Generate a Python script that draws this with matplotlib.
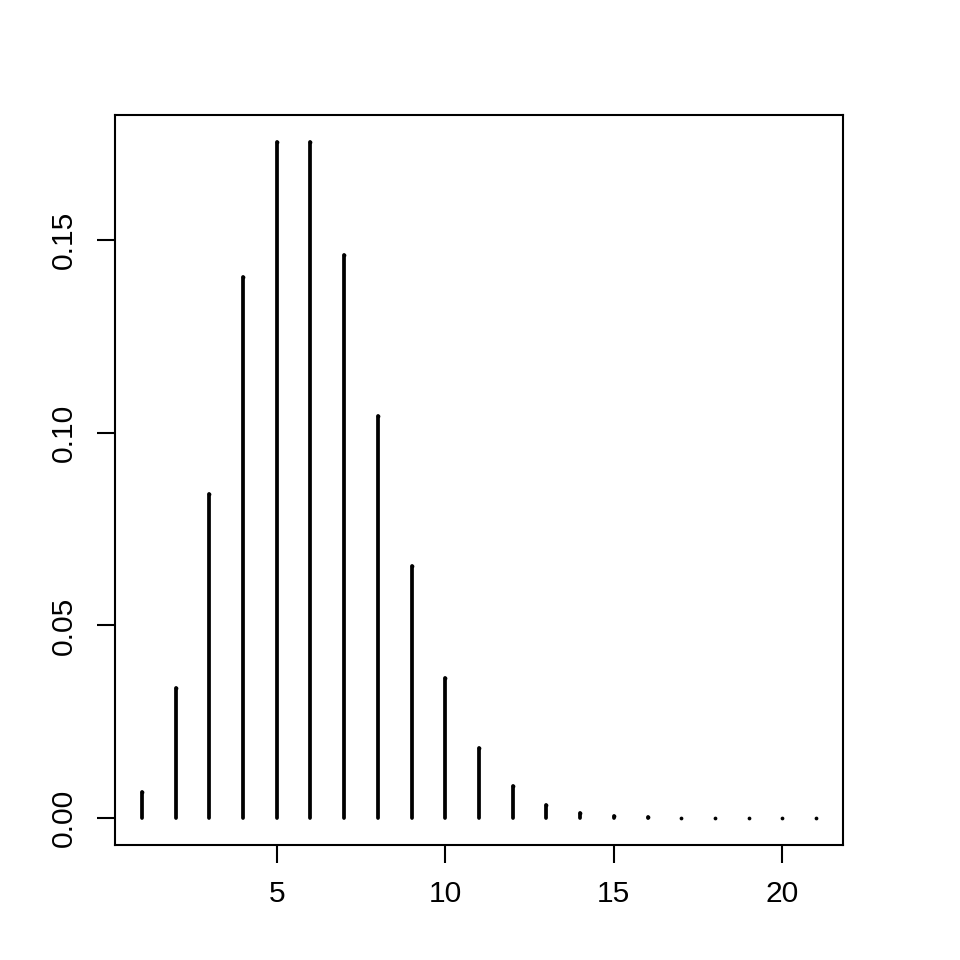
import matplotlib
matplotlib.use("Agg")
import matplotlib.pyplot as plt

plt.rcParams['font.family'] = ['Liberation Sans', 'DejaVu Sans']

# значения (индекс 1..21)
index = list(range(1, 22))
density = [0.0067, 0.0337, 0.0842, 0.1404, 0.1755, 0.1755, 0.1462, 0.1044,
           0.0653, 0.0363, 0.0181, 0.0082, 0.0034, 0.0013, 0.0005, 0.0002,
           0.00007, 0.00002, 0.00001, 0.00001, 0.00001]
x_ticks = [5, 10, 15, 20]
y_ticks = [0.00, 0.05, 0.10, 0.15]
y_tick_labels = ["0.00", "0.05", "0.10", "0.15"]

fig = plt.figure(figsize=(9.6, 9.6), dpi=100)
ax = fig.add_axes([115 / 960, 1 - 845 / 960, (843 - 115) / 960, (845 - 115) / 960])

lines = ax.vlines(index, 0, density, colors='black', linewidth=2.7)
lines.set_capstyle('round')
# круглые концы: у почти нулевых значений остаётся только точка
ax.plot(index, density, 'o', color='black', markersize=2.7, markeredgewidth=0)

ax.set_xlim(0.2, 21.8)
ymax = max(density)
ax.set_ylim(-0.04 * ymax, 1.04 * ymax)

ax.set_xticks(x_ticks)
ax.set_xticklabels([str(t) for t in x_ticks])
ax.set_yticks(y_ticks)
ax.set_yticklabels(y_tick_labels, rotation=90, va='center')

ax.tick_params(axis='both', length=13, width=1.5, labelsize=21.6, direction='out')
ax.tick_params(axis='x', pad=12)
ax.tick_params(axis='y', pad=14)
for s in ax.spines.values():
    s.set_linewidth(1.5)

fig.savefig("out.png", dpi=100)
